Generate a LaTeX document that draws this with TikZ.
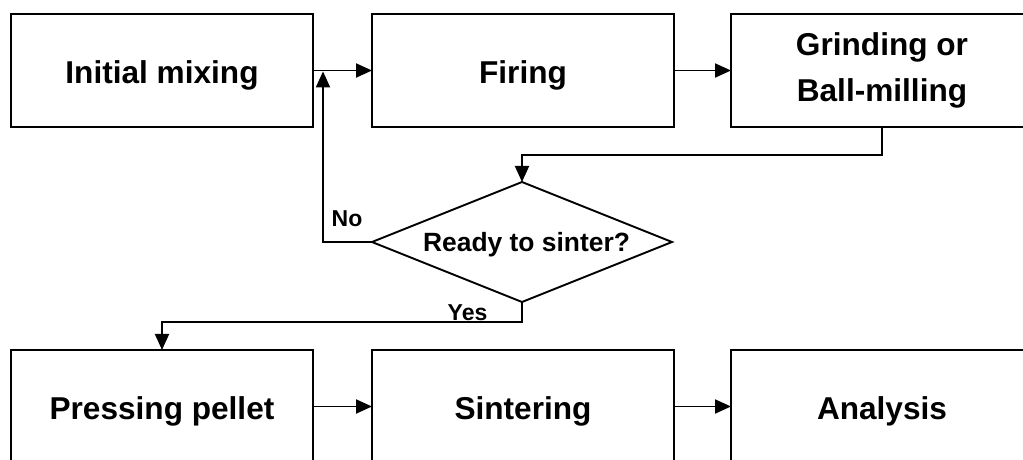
\documentclass[tikz,border=0pt]{standalone}
\usepackage{fontspec}
\setmainfont{Liberation Sans}
\usetikzlibrary{arrows.meta, positioning, shapes.geometric}

\begin{document}
\begin{tikzpicture}[x=1pt, y=1pt,
  stepbox/.style={draw, line width=1.9pt, minimum width=302pt, minimum height=113pt,
    outer sep=0pt, inner sep=0pt, align=center,
    font=\fontsize{31.6}{46}\selectfont\bfseries},
  oneline/.style={text height=25.6pt, text depth=0pt},
  decision/.style={diamond, draw, line width=1.9pt, aspect=2.5,
    minimum width=300pt, minimum height=120pt, outer sep=0pt, inner sep=0pt,
    text height=18.9pt, text depth=0pt,
    font=\fontsize{26.4}{30}\selectfont\bfseries},
  >={Triangle[length=16pt, width=14pt]},
  flow/.style={line width=1.9pt, ->},
  lbl/.style={font=\fontsize{23}{28}\selectfont\bfseries, inner sep=0pt,
    text height=16.5pt, text depth=0pt},
]

% Page size of the reference
\useasboundingbox (0,0) rectangle (1023,460);

% Top row
\node[stepbox, oneline] (mix) at (162,389.5) {Initial mixing};
\node[stepbox, oneline, right=59pt of mix] (fire) {Firing};
\node[stepbox, right=57pt of fire] (grind) {Grinding or\\Ball-milling};

% Decision (text sits a little right of centre)
\node[decision] (ready) at (522,218) {\hspace{9pt}Ready to sinter?};

% Bottom row
\node[stepbox, oneline] (press) at (162,53.5) {Pressing pellet};
\node[stepbox, oneline, right=59pt of press] (sinter) {Sintering};
\node[stepbox, oneline, right=57pt of sinter] (anal) {Analysis};

% Loop-back point on the first arrow
\coordinate (join) at (323,389.5);

% Flow along the top row
\draw[flow] (mix) -- (fire);
\draw[flow] (fire) -- (grind);
\draw[flow] (grind.south) -- ++(0,-28) -| (ready.north);

% Branches of the decision
\draw[flow, shorten >=0.9pt] (ready.west) -| (join);
\node[lbl] (no) at (347,242) {No};
\draw[flow] (ready.south) -- ++(0,-20) -| (press.north);
\node[lbl] (yes) at (467.5,147.5) {Yes};

% Flow along the bottom row
\draw[flow] (press) -- (sinter);
\draw[flow] (sinter) -- (anal);

\end{tikzpicture}
\end{document}
